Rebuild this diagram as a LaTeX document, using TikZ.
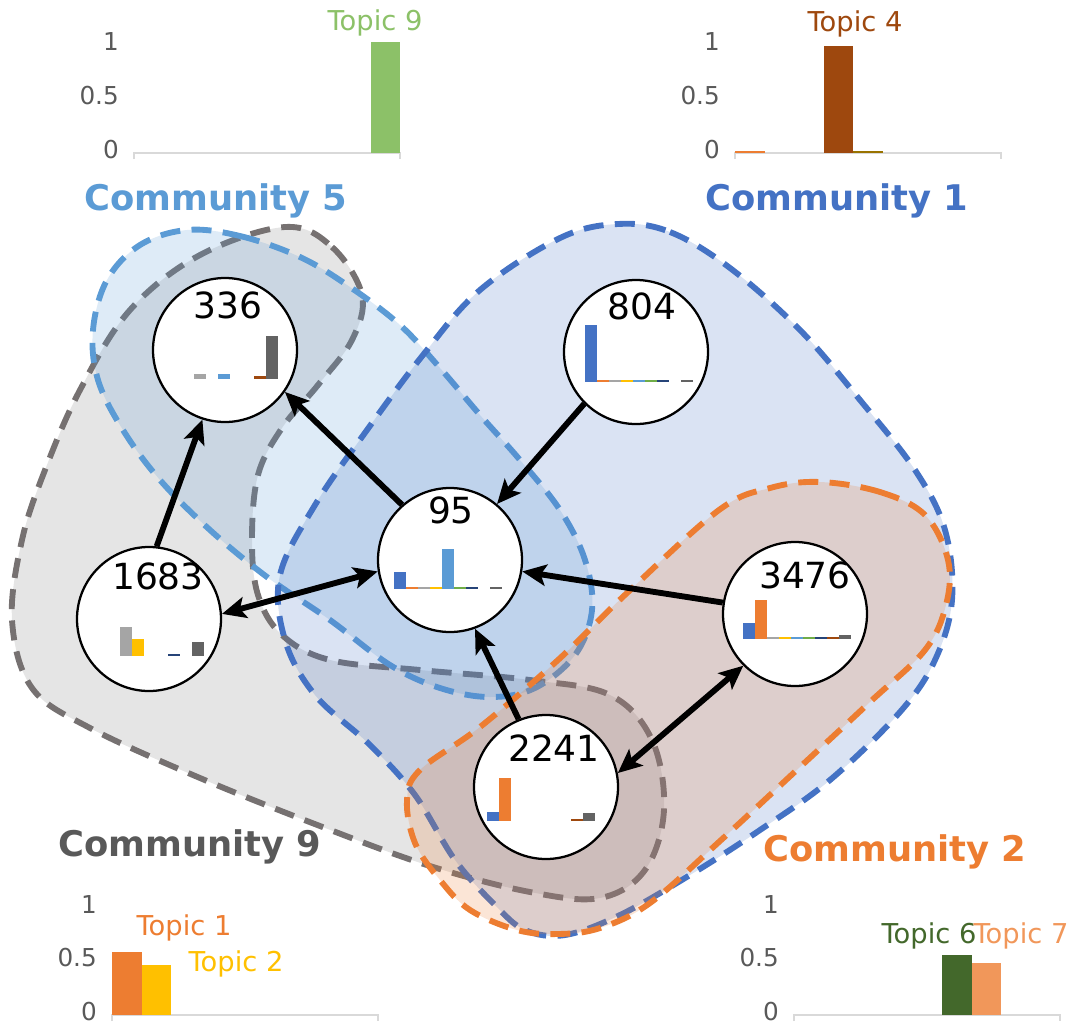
\documentclass[tikz,border=0pt]{standalone}
\usepackage{fontspec}
\setmainfont{DejaVu Sans}
\usetikzlibrary{arrows.meta,calc}

% topic colours (mini charts)
\definecolor{t1}{HTML}{4472C4}
\definecolor{t2}{HTML}{ED7D31}
\definecolor{t3}{HTML}{A5A5A5}
\definecolor{t4}{HTML}{FFC000}
\definecolor{t5}{HTML}{5B9BD5}
\definecolor{t6}{HTML}{70AD47}
\definecolor{t7}{HTML}{264478}
\definecolor{t8}{HTML}{9E480E}
\definecolor{t9}{HTML}{636363}
% community charts
\definecolor{lgreen}{HTML}{8CC168}
\definecolor{olive}{HTML}{997300}
\definecolor{dgreen}{HTML}{43682B}
\definecolor{lorange}{HTML}{F1975A}
\definecolor{axisgrey}{HTML}{595959}
\definecolor{axisline}{HTML}{D9D9D9}
\definecolor{c9line}{HTML}{767171}
\definecolor{c9fill}{HTML}{7F7F7F}

\tikzset{
  member/.style={circle, draw, line width=1.7pt, fill=white, minimum size=108pt, inner sep=0pt},
  count/.style={font=\fontsize{27}{30}\selectfont, inner sep=0pt},
  commlbl/.style={font=\fontsize{26.5}{30}\selectfont\bfseries, inner sep=0pt},
  topiclbl/.style={font=\fontsize{20.5}{24}\selectfont, inner sep=0pt},
  ticklbl/.style={font=\fontsize{18.5}{22}\selectfont, text=axisgrey, anchor=east, inner sep=0pt},
  hull/.style={line width=4.4pt, dash pattern=on 15pt off 8.5pt, fill opacity=0.2},
  flow/.style={line width=4.4pt},
}

% #1 node, #2 left offset, #3 baseline offset, #4 slot/height/colour
\newcommand{\minibars}[4]{%
  \foreach \s/\h/\c in {#4}
    \fill[\c] ($(#1)+({#2+12*(\s-1)},#3)$) rectangle ++(12,{-\h});
}
% #1 name, #2 x, #3 y, #4 slot/value/colour
\newcommand{\scorechart}[4]{%
  \draw[axisline, line width=1.1pt] (#2,{#3+6}) -- (#2,#3) -- ({#2+266},#3) -- ({#2+266},{#3+6});
  \foreach \v/\lbl [count=\k] in {0/0, 0.5/0.5, 1/1}
    \node[ticklbl] (#1-\k) at ({#2-15},{#3-3-108*\v}) {\lbl};
  \foreach \s/\v/\c in {#4}
    \fill[\c] ({#2+29.6*(\s-1)},#3) rectangle ++(29.6,{-max(111*\v,2)});
}

\begin{document}
\begin{tikzpicture}[x=0.75pt, y=-0.75pt, >={Stealth[length=18pt,width=16pt,inset=4pt]}]
    \useasboundingbox (0,0) rectangle (1077,1025);

    % communities
    \filldraw[hull, draw=c9line, fill=c9fill] plot[smooth cycle, tension=0.6] coordinates {
      (285,227) (332,247) (362,295) (352,340) (318,385) (282,428) (258,475) (252,540)
      (258,595) (282,635) (330,660) (420,670) (530,680) (610,695) (652,740) (664,810)
      (645,870) (600,898) (530,892) (430,866) (320,826) (200,778) (90,728) (32,688)
      (12,620) (22,540) (45,470) (80,390) (130,310) (200,255)};
    \filldraw[hull, draw=t5, fill=t5] plot[smooth cycle, tension=0.6] coordinates {
      (187,230) (240,236) (300,257) (350,287) (400,325) (440,368) (480,415) (520,460)
      (560,510) (585,560) (592,610) (575,655) (535,688) (490,697) (440,688) (390,665)
      (330,620) (267,577) (210,530) (160,480) (123,430) (98,380) (93,330) (107,280) (140,245)};
    \filldraw[hull, draw=t1, fill=t1] plot[smooth cycle, tension=0.6] coordinates {
      (618,224) (670,232) (730,268) (800,330) (860,400) (915,470) (945,530) (952,600)
      (935,660) (900,712) (830,780) (760,830) (690,875) (620,915) (565,935) (525,930)
      (495,905) (455,860) (415,795) (370,745) (315,695) (285,640) (280,575) (315,505)
      (367,430) (423,355) (480,290) (560,238)};
    \filldraw[hull, draw=t2, fill=t2] plot[smooth cycle, tension=0.6] coordinates {
      (820,482) (880,492) (925,515) (948,560) (946,605) (925,650) (870,702) (800,767)
      (720,841) (650,903) (600,928) (558,934) (517,930) (470,910) (440,880) (415,843)
      (407,800) (420,770) (480,727) (558,660) (627,593) (719,510) (770,488)};

    % users
    \node[member] (n336)  at (225,350) {};
    \node[member] (n804)  at (636,352) {};
    \node[member] (n95)   at (450,560) {};
    \node[member] (n1683) at (149,619) {};
    \node[member] (n3476) at (795,614) {};
    \node[member] (n2241) at (546,787) {};

    \draw[flow, ->] (n1683.84) -- (n336.252);
    \draw[flow, ->] (n95.131) -- (n336.-35);
    \draw[flow, ->] (n804.225) -- (n95.50);
    \draw[flow, <->] (n1683.4) -- (n95.189);
    \draw[flow, ->] (n3476.171) -- (n95.-9);
    \draw[flow, ->] (n2241.112) -- (n95.-70);
    \draw[flow, <->] (n2241.11) -- (n3476.225);

    \node[count] (l336)  at ($(n336)+(3,-45)$)  {336};
    \node[count] (l804)  at ($(n804)+(6,-46)$)  {804};
    \node[count] (l95)   at ($(n95)+(1,-50)$)   {95};
    \node[count] (l1683) at ($(n1683)+(9,-43)$) {1683};
    \node[count] (l3476) at ($(n3476)+(10,-39)$) {3476};
    \node[count] (l2241) at ($(n2241)+(8,-39)$) {2241};

    \minibars{n336}{-55}{29}{3/5/t3, 5/5/t5, 8/3/t8, 9/43/t9}
    \minibars{n804}{-51}{30}{1/57/t1, 2/2/t2, 3/2/t3, 4/2/t4, 5/2/t5, 6/2/t6, 7/2/t7, 9/2/t9}
    \minibars{n95}{-56}{29}{1/17/t1, 2/2/t2, 3/2/t3, 4/2/t4, 5/40/t5, 6/2/t6, 7/2/t7, 9/2/t9}
    \minibars{n1683}{-53}{37}{3/29/t3, 4/17/t4, 7/2/t7, 9/14/t9}
    \minibars{n3476}{-52}{25}{1/16/t1, 2/39/t2, 3/2/t3, 4/2/t4, 5/2/t5, 6/2/t6, 7/2/t7, 8/2/t8, 9/4/t9}
    \minibars{n2241}{-59}{34}{1/9/t1, 2/43/t2, 8/2/t8, 9/8/t9}

    % community labels and topic charts
    \node[commlbl, text=t5] (com5) at (216,201) {Community 5};
    \node[commlbl, text=t1] (com1) at (837,201) {Community 1};
    \node[commlbl, text=axisgrey] (com9) at (190,847) {Community 9};
    \node[commlbl, text=t2] (com2) at (895,852) {Community 2};

    \scorechart{ch5}{134}{153}{9/1/lgreen}
    \scorechart{ch1}{735}{153}{1/0/t2, 4/0.964/t8, 5/0/olive}
    \scorechart{ch9}{112}{1015}{1/0.565/t2, 2/0.455/t4}
    \scorechart{ch2}{794}{1015}{6/0.54/dgreen, 7/0.47/lorange}

    \node[topiclbl, text=lgreen] (tp9) at (375,23) {Topic 9};
    \node[topiclbl, text=t8] (tp4) at (855,24) {Topic 4};
    \node[topiclbl, text=t2] (tp1) at (184,928) {Topic 1};
    \node[topiclbl, text=t4] (tp2) at (236,964) {Topic 2};
    \node[topiclbl, text=dgreen] (tp6) at (929,936) {Topic 6};
    \node[topiclbl, text=lorange] (tp7) at (1021,936) {Topic 7};
\end{tikzpicture}
\end{document}
